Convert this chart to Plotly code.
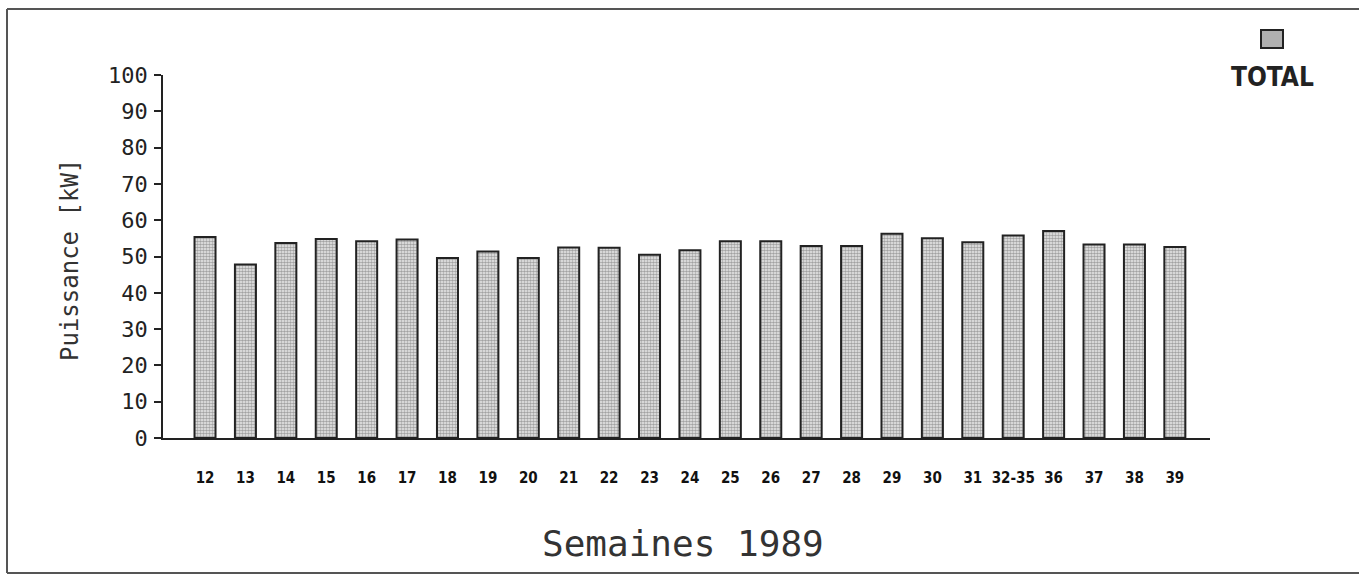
import plotly.graph_objects as go

weeks = ["12", "13", "14", "15", "16", "17", "18", "19", "20", "21", "22", "23", "24",
         "25", "26", "27", "28", "29", "30", "31", "32-35", "36", "37", "38", "39"]
total_kw = [55.4, 47.8, 53.7, 54.8, 54.2, 54.7, 49.6, 51.4, 49.6, 52.5, 52.4, 50.5, 51.7,
            54.2, 54.2, 52.9, 52.9, 56.3, 55.0, 53.9, 55.8, 57.0, 53.3, 53.3, 52.6]
y_ticks = [0, 10, 20, 30, 40, 50, 60, 70, 80, 90, 100]
series_name = "TOTAL"

W, H = 1359, 575
L, R, T, B = 163, 149, 75, 137
pw, ph = W - L - R, H - T - B


def px(x):
    return (x - L) / pw


def py(y):
    return (H - B - y) / ph


mono = "DejaVu Sans Mono, monospace"
narrow = "Liberation Sans Narrow, Arial Narrow, DejaVu Sans Condensed, sans-serif"

fig = go.Figure()
fig.add_trace(go.Bar(
    x=weeks, y=total_kw, name=series_name, width=0.52,
    marker=dict(
        color="white",
        line=dict(color="#222", width=2),
        pattern=dict(shape=".", fgcolor="#555", bgcolor="#eeeeee", size=3, solidity=0.6),
    ),
    showlegend=False,
))

fig.update_layout(
    width=W, height=H, autosize=False,
    margin=dict(l=L, r=R, t=T, b=B),
    paper_bgcolor="white", plot_bgcolor="white",
    xaxis=dict(
        type="category", range=[-1.04, len(weeks) - 0.13],
        showline=True, linecolor="#222", linewidth=2,
        showgrid=False, ticks="", zeroline=False,
        tickfont=dict(family=narrow, size=15, color="#111", weight="bold"),
        ticklabelstandoff=25,
    ),
    yaxis=dict(
        range=[0, 100], tickvals=y_ticks,
        showline=True, linecolor="#222", linewidth=1.5,
        ticks="outside", ticklen=7, tickcolor="#222", tickwidth=1.5,
        showgrid=False, zeroline=False,
        tickfont=dict(family=mono, size=22, color="#222"),
        ticklabelstandoff=2,
    ),
)

fig.add_annotation(
    text="Semaines 1989", xref="paper", yref="paper",
    x=px(683), y=py(543), xanchor="center", yanchor="middle",
    showarrow=False, font=dict(family=mono, size=36, color="#333"),
)
fig.add_annotation(
    text="Puissance [kW]", xref="paper", yref="paper",
    x=px(70), y=py(260), xanchor="center", yanchor="middle", textangle=-90,
    showarrow=False, font=dict(family=mono, size=24, color="#333"),
)
# legend
fig.add_shape(type="rect", xref="paper", yref="paper",
              x0=px(1261), x1=px(1283), y0=py(48), y1=py(30),
              fillcolor="#b0b0b0", line=dict(color="#222", width=2))
fig.add_annotation(
    text="<b>" + series_name + "</b>", xref="paper", yref="paper",
    x=px(1272), y=py(77), xanchor="center", yanchor="middle",
    showarrow=False, font=dict(family=narrow, size=26, color="#222"),
)
# frame
for (x0, y0, x1, y1) in [(7, 9, 1359, 9), (7, 9, 7, 573), (7, 573, 1359, 573)]:
    fig.add_shape(type="line", xref="paper", yref="paper",
                  x0=px(x0), y0=py(y0), x1=px(x1), y1=py(y1),
                  line=dict(color="#555", width=2))

fig.write_html("out.html", config={"displayModeBar": False},
               post_script="document.body.style.margin='0';document.body.style.overflow='hidden';")
